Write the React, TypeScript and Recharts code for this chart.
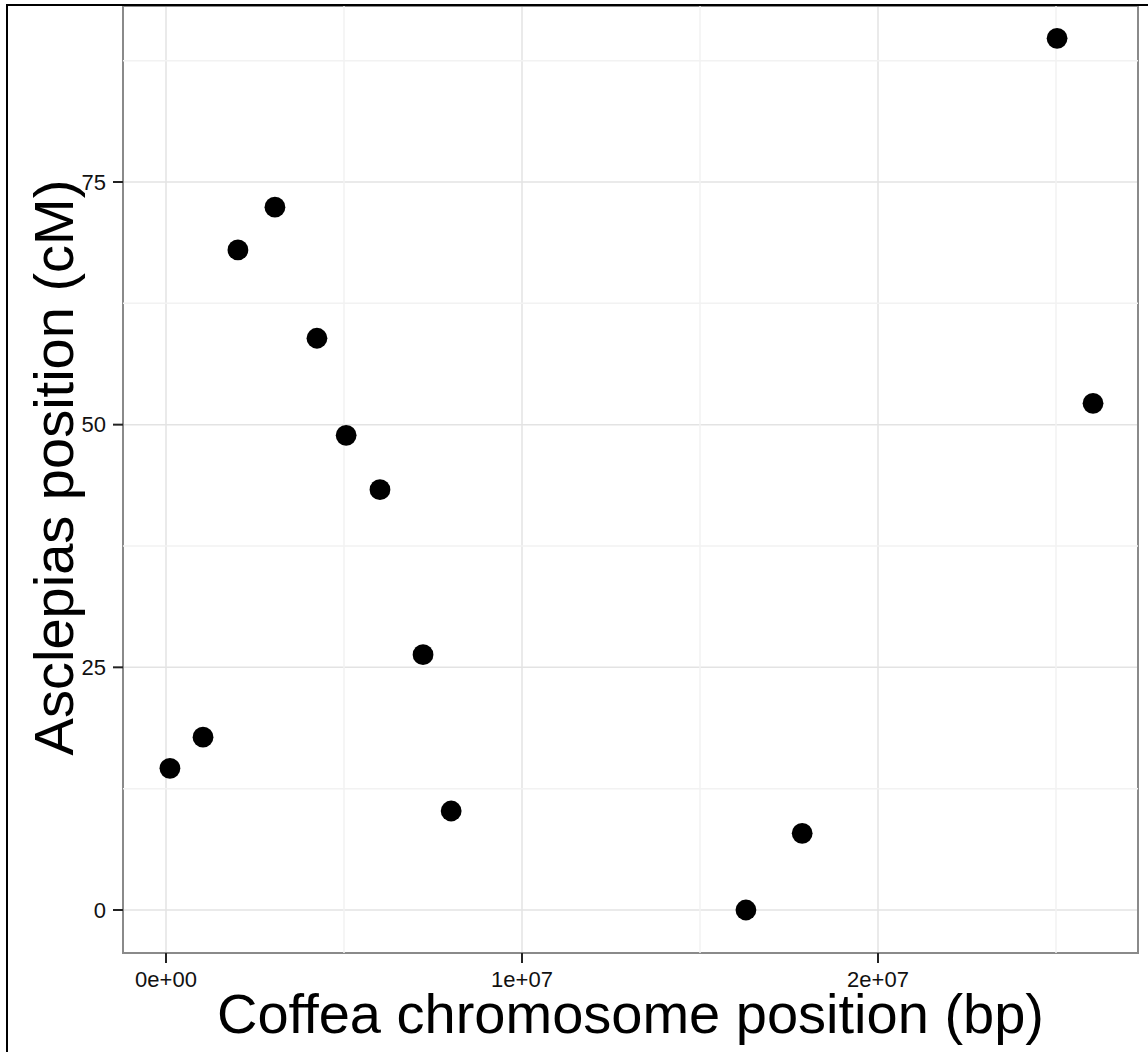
import React from 'react';
import {
  ScatterChart,
  Scatter,
  XAxis,
  YAxis,
  CartesianGrid,
  ReferenceLine,
  ReferenceArea,
} from 'recharts';

// Coffea chromosome position (bp) vs Asclepias map position (cM)
const coffeaBp = [
  1.1e5, 1.04e6, 2.02e6, 3.06e6, 4.24e6, 5.06e6, 6.01e6, 7.22e6, 8.01e6,
  1.629e7, 1.787e7, 2.503e7, 2.604e7,
];
const asclepiasCm = [14.6, 17.8, 68.0, 72.4, 58.9, 48.9, 43.3, 26.3, 10.2, 0, 7.9, 89.8, 52.2];

const xTicks = [0, 1e7, 2e7];
const xTickLabels = ['0e+00', '1e+07', '2e+07'];
const xMinorTicks = [5e6, 1.5e7, 2.5e7];
const yTicks = [0, 25, 50, 75];
const yMinorTicks = [12.5, 37.5, 62.5, 87.5];

const X_DOMAIN: [number, number] = [-1.208e6, 2.7303e7];
const Y_DOMAIN: [number, number] = [-4.43, 93.13];

const FONT = "'Liberation Sans', Arial, Helvetica, sans-serif";

const points = coffeaBp.map((bp, i) => ({ bp, cm: asclepiasCm[i] }));

const Dot = (props: any) => <circle cx={props.cx} cy={props.cy} r={10.4} fill="#000" />;

const YTitle = (props: any) => {
  const { viewBox } = props;
  const x = 73;
  const y = viewBox.y + viewBox.height / 2 - 12;
  return (
    <text
      x={x}
      y={y}
      transform={`rotate(-90, ${x}, ${y})`}
      textAnchor="middle"
      fontSize={56}
      fontFamily={FONT}
      fill="#000"
    >
      Asclepias position (cM)
    </text>
  );
};

const XTitle = (props: any) => {
  const { viewBox } = props;
  return (
    <text
      x={viewBox.x + viewBox.width / 2}
      y={1033}
      textAnchor="middle"
      fontSize={56}
      fontFamily={FONT}
      fill="#000"
    >
      Coffea chromosome position (bp)
    </text>
  );
};

export default function App() {
  return (
    <div style={{ position: 'absolute', left: 0, top: 0, width: 1148, height: 1052, background: '#fff', fontFamily: FONT }}>
      <ScatterChart width={1148} height={1052} margin={{ top: 6, right: 10, bottom: 0, left: 0 }}>
        {xMinorTicks.map((v) => (
          <ReferenceLine key={`xm-${v}`} x={v} stroke="#f2f2f2" strokeWidth={1.5} />
        ))}
        {yMinorTicks.map((v) => (
          <ReferenceLine key={`ym-${v}`} y={v} stroke="#f2f2f2" strokeWidth={1.5} />
        ))}
        <CartesianGrid stroke="#e3e3e3" strokeWidth={1.5} />
        <XAxis
          type="number"
          dataKey="bp"
          domain={X_DOMAIN}
          allowDataOverflow
          ticks={xTicks}
          interval={0}
          tickFormatter={(v: number) => xTickLabels[xTicks.indexOf(v)] ?? String(v)}
          height={99}
          axisLine={false}
          tickSize={10}
          tickMargin={8}
          tickLine={{ stroke: '#222', strokeWidth: 2 }}
          tick={{ fontSize: 22, fill: '#111', fontFamily: FONT }}
          label={<XTitle />}
        />
        <YAxis
          type="number"
          dataKey="cm"
          domain={Y_DOMAIN}
          allowDataOverflow
          ticks={yTicks}
          interval={0}
          width={123}
          axisLine={false}
          tickSize={10}
          tickMargin={7}
          tickLine={{ stroke: '#222', strokeWidth: 2 }}
          tick={{ fontSize: 22, fill: '#111', fontFamily: FONT }}
          label={<YTitle />}
        />
        <Scatter data={points} shape={<Dot />} isAnimationActive={false} />
        <ReferenceArea
          x1={X_DOMAIN[0]}
          x2={X_DOMAIN[1]}
          y1={Y_DOMAIN[0]}
          y2={Y_DOMAIN[1]}
          fill="none"
          stroke="#8a8a8a"
          strokeWidth={2}
        />
      </ScatterChart>
      <div
        style={{
          position: 'absolute',
          left: 6,
          top: 4,
          width: 1142,
          height: 1048,
          borderTop: '2px solid #000',
          borderLeft: '2px solid #000',
          boxSizing: 'border-box',
          pointerEvents: 'none',
        }}
      />
    </div>
  );
}
